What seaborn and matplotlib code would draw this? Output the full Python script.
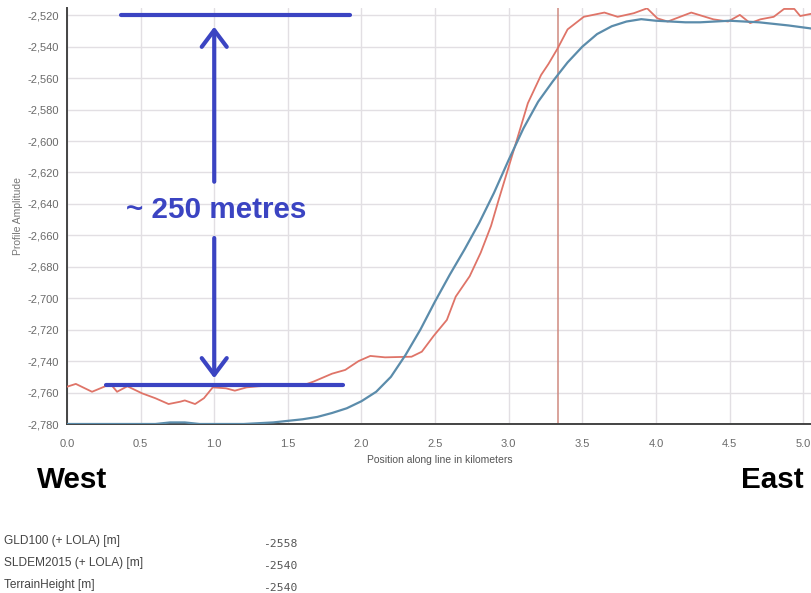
import matplotlib
matplotlib.use("Agg")
import matplotlib.pyplot as plt
import seaborn as sns
import pandas as pd
from matplotlib.ticker import FuncFormatter, MultipleLocator

# GLD100 (+ LOLA) elevation profile, km along line vs metres
gld_km = [0.0, 0.3, 0.6, 0.7, 0.8, 0.9, 1.2, 1.4, 1.5, 1.6, 1.7, 1.8, 1.9,
          2.0, 2.1, 2.2, 2.3, 2.4, 2.5, 2.6, 2.7, 2.8, 2.9, 3.0, 3.1, 3.2,
          3.3, 3.333, 3.4, 3.5, 3.6, 3.7, 3.8, 3.9, 4.0, 4.1, 4.2, 4.3, 4.4,
          4.5, 4.6, 4.7, 4.8, 4.9, 5.06]
gld_m = [-2780, -2780, -2780, -2779, -2779, -2780, -2780, -2779, -2778,
         -2777, -2775.5, -2773, -2770, -2765.5, -2759.5, -2750, -2736,
         -2720, -2702, -2685, -2669, -2652, -2633, -2612, -2592, -2575,
         -2562, -2558, -2550, -2540, -2532, -2527, -2524, -2522.5, -2523.5,
         -2524, -2524.5, -2524.5, -2524, -2523.5, -2524, -2524.5, -2525.5,
         -2526.5, -2528.5]

# SLDEM2015 (+ LOLA) elevation profile
sldem_km = [0.0, 0.06, 0.17, 0.26, 0.30, 0.34, 0.41, 0.51, 0.60, 0.69, 0.77,
            0.80, 0.87, 0.93, 0.99, 1.08, 1.14, 1.22, 1.30, 1.40, 1.50, 1.60,
            1.675, 1.80, 1.89, 1.98, 2.06, 2.16, 2.34, 2.41, 2.49, 2.58, 2.64,
            2.735, 2.81, 2.88, 2.93, 3.05, 3.13, 3.22, 3.27, 3.333, 3.40,
            3.51, 3.65, 3.74, 3.85, 3.94, 4.01, 4.08, 4.24, 4.39, 4.49, 4.57,
            4.64, 4.71, 4.80, 4.87, 4.94, 4.98, 5.06]
sldem_m = [-2756.3, -2754.5, -2759.5, -2756, -2755, -2759.5, -2756, -2760.5,
           -2763.6, -2767.3, -2765.8, -2765, -2767.3, -2763.6, -2756.7,
           -2757.3, -2758.8, -2756.7, -2756, -2755.5, -2755, -2755.5, -2753,
           -2748, -2745.6, -2740, -2736.7, -2737.6, -2737.2, -2734, -2724,
           -2713.8, -2699, -2686, -2671, -2654, -2638, -2601, -2576, -2558,
           -2551, -2541, -2529, -2521, -2518.3, -2521, -2518.7, -2515.6,
           -2522, -2524, -2518.3, -2522.6, -2524, -2519.8, -2525, -2522.6,
           -2521, -2516, -2516, -2520.5, -2519]

cursor_km = 3.333

table_labels = ["GLD100 (+ LOLA) [m]", "SLDEM2015 (+ LOLA) [m]", "TerrainHeight [m]"]
table_values = ["-2558", "-2540", "-2540"]

sns.set_style("white")
plt.rcParams["font.family"] = ["Liberation Sans", "DejaVu Sans"]

W, H = 812, 593
fig = plt.figure(figsize=(W / 100, H / 100), dpi=100)
ax = fig.add_axes([67 / W, 1 - 424 / H, (W - 67) / W, (424 - 8) / H])

red = "#df7468"
blue = "#5b8cab"
ink = "#3b44c2"

gld = pd.DataFrame({"km": gld_km, "m": gld_m})
sld = pd.DataFrame({"km": sldem_km, "m": sldem_m})
sns.lineplot(data=sld, x="km", y="m", ax=ax, color=red, lw=1.3,
             estimator=None, sort=False, zorder=3)
sns.lineplot(data=gld, x="km", y="m", ax=ax, color=blue, lw=1.6,
             estimator=None, sort=False, zorder=3)
ax.axvline(cursor_km, color="#cf8a80", lw=1.1, zorder=2)

ax.set_xlim(0, 5.06)
ax.set_ylim(-2780, -2515.4)
ax.xaxis.set_major_locator(MultipleLocator(0.5))
ax.yaxis.set_major_locator(MultipleLocator(20))
ax.xaxis.set_major_formatter(FuncFormatter(lambda v, p: f"{v:.1f}"))
ax.yaxis.set_major_formatter(FuncFormatter(lambda v, p: f"-{abs(v):,.0f}"))
ax.grid(True, color="#e2dfe3", lw=1.0, zorder=0)

for s in ["top", "right"]:
    ax.spines[s].set_visible(False)
for s in ["left", "bottom"]:
    ax.spines[s].set_color("#444444")
    ax.spines[s].set_linewidth(1.4)
ax.tick_params(axis="both", which="major", direction="out", length=5,
               width=1.2, color="#444444", labelcolor="#6a6a6a", labelsize=8)
ax.tick_params(axis="y", pad=1)
ax.tick_params(axis="x", pad=6)

ax.set_xlabel("Position along line in kilometers", fontsize=7.5,
              color="#555555", labelpad=4)
ax.set_ylabel("Profile Amplitude", fontsize=7.5, color="#777777", labelpad=3)

# height-difference annotation
ax.plot([0.368, 1.925], [-2520, -2520], color=ink, lw=3,
        solid_capstyle="round", zorder=5, clip_on=False)
ax.plot([0.264, 1.877], [-2755.5, -2755.5], color=ink, lw=3,
        solid_capstyle="round", zorder=5)
arrow = dict(arrowstyle="->,head_length=0.6,head_width=0.45", color=ink,
             lw=3, mutation_scale=20, shrinkA=0, shrinkB=0,
             capstyle="round", joinstyle="round")
ax.annotate("", xy=(1.0, -2527.3), xytext=(1.0, -2625.9),
            arrowprops=arrow, zorder=5)
ax.annotate("", xy=(1.0, -2750.9), xytext=(1.0, -2661.7),
            arrowprops=arrow, zorder=5)
ax.text(1.01, -2648.9, "~ 250 metres", ha="center", va="baseline",
        fontsize=21.3, fontweight="bold", color=ink, zorder=6)

fig.text(37 / W, 1 - 488 / H, "West", ha="left", va="baseline",
         fontsize=21.3, fontweight="bold", color="black")
fig.text(741 / W, 1 - 488 / H, "East", ha="left", va="baseline",
         fontsize=21.3, fontweight="bold", color="black")

for i, (lab, val) in enumerate(zip(table_labels, table_values)):
    yb = 544 + 22 * i
    fig.text(4 / W, 1 - yb / H, lab, ha="left", va="baseline",
             fontsize=8.6, color="#444444")
    fig.text(263 / W, 1 - (yb + 3) / H, val, ha="left", va="baseline",
             fontsize=8.2, color="#555555", family="DejaVu Sans Mono")

fig.savefig("out.png", dpi=100)
